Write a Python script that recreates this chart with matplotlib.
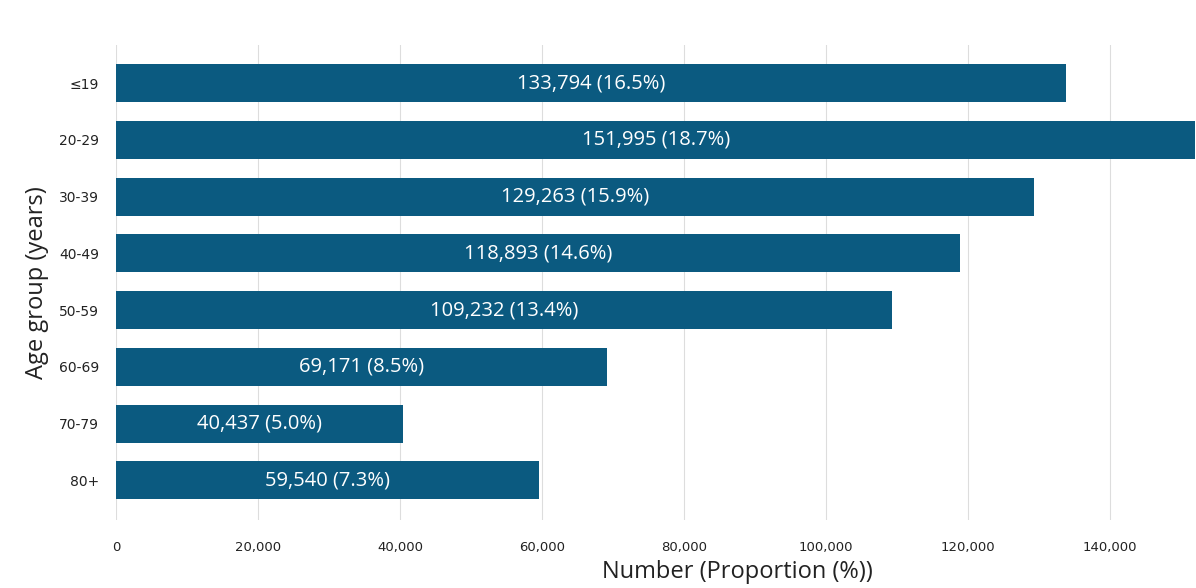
import matplotlib.pyplot as plt
from matplotlib.ticker import FuncFormatter

# Age distribution of cases
age_groups = ["≤19", "20-29", "30-39", "40-49", "50-59", "60-69", "70-79", "80+"]
counts = [133794, 151995, 129263, 118893, 109232, 69171, 40437, 59540]
shares = [16.5, 18.7, 15.9, 14.6, 13.4, 8.5, 5.0, 7.3]

bar_color = "#0b5a80"

fig = plt.figure(figsize=(11.96, 5.88), dpi=100)
ax = fig.add_axes([116 / 1196, 68 / 588, 1080 / 1196, 475 / 588])

ypos = list(range(len(age_groups)))
ax.barh(ypos, counts, height=0.67, color=bar_color, zorder=2)

for y, n, p in zip(ypos, counts, shares):
    ax.text(n / 2, y, f"{n:,} ({p:.1f}%)", ha="center", va="center",
            color="white", fontsize=14.5, family="Open Sans", zorder=3)

ax.set_xlim(0, 152100)
ax.set_ylim(7.7, -0.67)
ax.set_xticks(range(0, 140001, 20000))
ax.xaxis.set_major_formatter(FuncFormatter(lambda v, _: f"{int(v):,}"))
ax.set_yticks(ypos)
ax.set_yticklabels(age_groups)

ax.grid(axis="x", color="#dddddd", linewidth=0.8, zorder=0)
for s in ax.spines.values():
    s.set_visible(False)
ax.tick_params(axis="both", length=0, colors="#222222")
ax.tick_params(axis="x", pad=15, labelsize=9.5)
ax.tick_params(axis="y", pad=12, labelsize=10)

ax.set_xlabel("Number (Proportion (%))", fontsize=17, family="Open Sans", color="#222222")
ax.xaxis.set_label_coords((737 - 116) / 1080, -0.085)
ax.set_ylabel("Age group (years)", fontsize=17, family="Open Sans", color="#222222")
ax.yaxis.set_label_coords(-0.062, 0.5)

fig.savefig("out.png", dpi=100)
